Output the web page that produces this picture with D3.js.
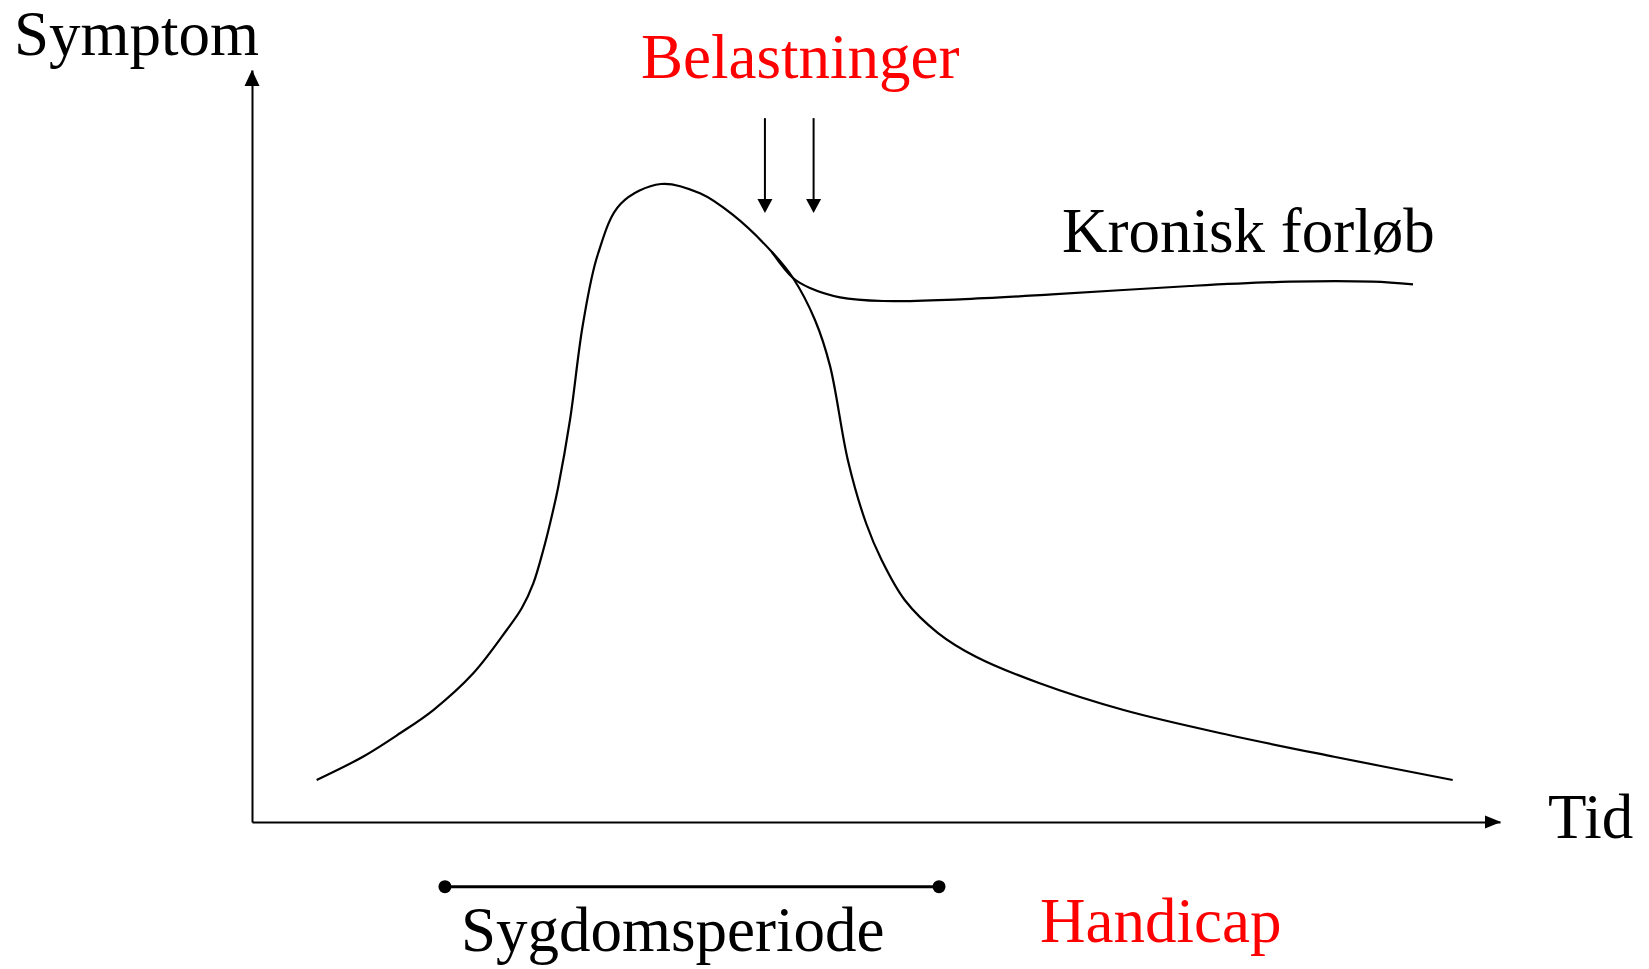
<!DOCTYPE html>
<html>
<head>
<meta charset="utf-8">
<script src="https://cdn.jsdelivr.net/npm/d3@7"></script>
<style>
  body { margin: 0; background: #fff; }
  text { font-family: "Liberation Serif", "Times New Roman", serif; font-size: 63px; }
</style>
</head>
<body>
<svg id="chart" width="1649" height="969"></svg>
<script>
// symptom curve, time (0-100) vs symptom level (0-100)
const mainT = [5.18, 8.89, 11.86, 14.53, 17.73, 20.41, 21.61, 22.54, 23.34, 24.01, 24.54, 25.48,
  26.52, 27.72, 29.53, 32.77, 35.9, 38.54, 41.64, 43.35, 45.11, 46.31, 47.76, 49.2, 50.45, 52.3, 54.97, 58.01,
  63.06, 69.84, 78.27, 86.7, 96.21];
const mainS = [5.59, 8.68, 11.8, 14.89, 19.77, 25.53, 28.42, 31.74, 36.17, 40.6, 44.59, 53.46,
  66.22, 75.53, 82.18, 84.84, 83.6, 80.72, 75.84, 72.34, 66.76, 60.69, 48.01, 39.76, 34.84, 29.52, 25.13, 21.98,
  18.48, 14.89, 11.57, 8.68, 5.59];

// chronic branch
const kronT = [41.64, 43.35, 44.71, 47.12, 50.56, 56.73, 64.1, 75.16, 83.17, 89.78, 93.03];
const kronS = [75.84, 72.34, 71.01, 69.77, 69.28, 69.51, 70.15, 71.28, 71.85, 71.85, 71.5];

// stress arrows (time) and their top / bottom level
const belastT = [41.1, 45.0];
const belastS = [93.6, 81.0];

// illness period on the time axis
const periodT = [15.46, 55.05];
const periodS = -8.6;

const labels = {
  yAxis: 'Symptom', xAxis: 'Tid', belast: 'Belastninger',
  kronisk: 'Kronisk forløb', periode: 'Sygdomsperiode', handicap: 'Handicap'
};

const svg = d3.select('#chart');
const x = d3.scaleLinear().domain([0, 100]).range([252, 1500]);
const y = d3.scaleLinear().domain([0, 100]).range([822, 70]);

// axes, no ticks
svg.append('g')
  .attr('transform', `translate(0,${y(0)})`)
  .call(d3.axisBottom(x).ticks(0).tickSizeOuter(0))
  .call(g => g.select('.domain').attr('stroke-width', 2));
svg.append('g')
  .attr('transform', `translate(${x(0)},0)`)
  .call(d3.axisLeft(y).ticks(0).tickSizeOuter(0))
  .call(g => g.select('.domain').attr('stroke-width', 2));

// arrow heads
const ax = x(100), ay = y(0);
svg.append('path').attr('d', `M${ax + 1},${ay} L${ax - 15},${ay - 6.5} L${ax - 15},${ay + 6.5} Z`).attr('fill', '#000');
const tx = x(0), ty = y(100);
svg.append('path').attr('d', `M${tx},${ty} L${tx - 7.5},${ty + 16} L${tx + 7.5},${ty + 16} Z`).attr('fill', '#000');

const line = d3.line()
  .x(d => x(d[0]))
  .y(d => y(d[1]))
  .curve(d3.curveCatmullRom.alpha(0.5));

svg.append('path')
  .datum(d3.zip(mainT, mainS))
  .attr('d', line)
  .attr('fill', 'none').attr('stroke', '#000').attr('stroke-width', 2.2);

svg.append('path')
  .datum(d3.zip(kronT, kronS))
  .attr('d', line)
  .attr('fill', 'none').attr('stroke', '#000').attr('stroke-width', 2.2);

// belastning arrows
belastT.forEach(t => {
  const px = x(t);
  svg.append('line')
    .attr('x1', px).attr('x2', px)
    .attr('y1', y(belastS[0])).attr('y2', y(belastS[1]) - 12)
    .attr('stroke', '#000').attr('stroke-width', 2);
  svg.append('path')
    .attr('d', `M${px},${y(belastS[1])} L${px - 7.5},${y(belastS[1]) - 14} L${px + 7.5},${y(belastS[1]) - 14} Z`)
    .attr('fill', '#000');
});

// sygdomsperiode bar
svg.append('line')
  .attr('x1', x(periodT[0])).attr('x2', x(periodT[1]))
  .attr('y1', y(periodS)).attr('y2', y(periodS))
  .attr('stroke', '#000').attr('stroke-width', 3);
svg.selectAll('circle.end')
  .data(periodT)
  .join('circle')
  .attr('class', 'end')
  .attr('cx', d => x(d)).attr('cy', y(periodS)).attr('r', 6.5)
  .attr('fill', '#000');

// texts
svg.append('text').attr('x', 14).attr('y', 55).text(labels.yAxis);
svg.append('text').attr('x', 1548).attr('y', 838).text(labels.xAxis);
svg.append('text').attr('x', 641).attr('y', 78).attr('fill', '#ff0000').text(labels.belast);
svg.append('text').attr('x', 1062).attr('y', 252).text(labels.kronisk);
svg.append('text').attr('x', 461).attr('y', 951).text(labels.periode);
svg.append('text').attr('x', 1040).attr('y', 942).attr('fill', '#ff0000').text(labels.handicap);
</script>
</body>
</html>
